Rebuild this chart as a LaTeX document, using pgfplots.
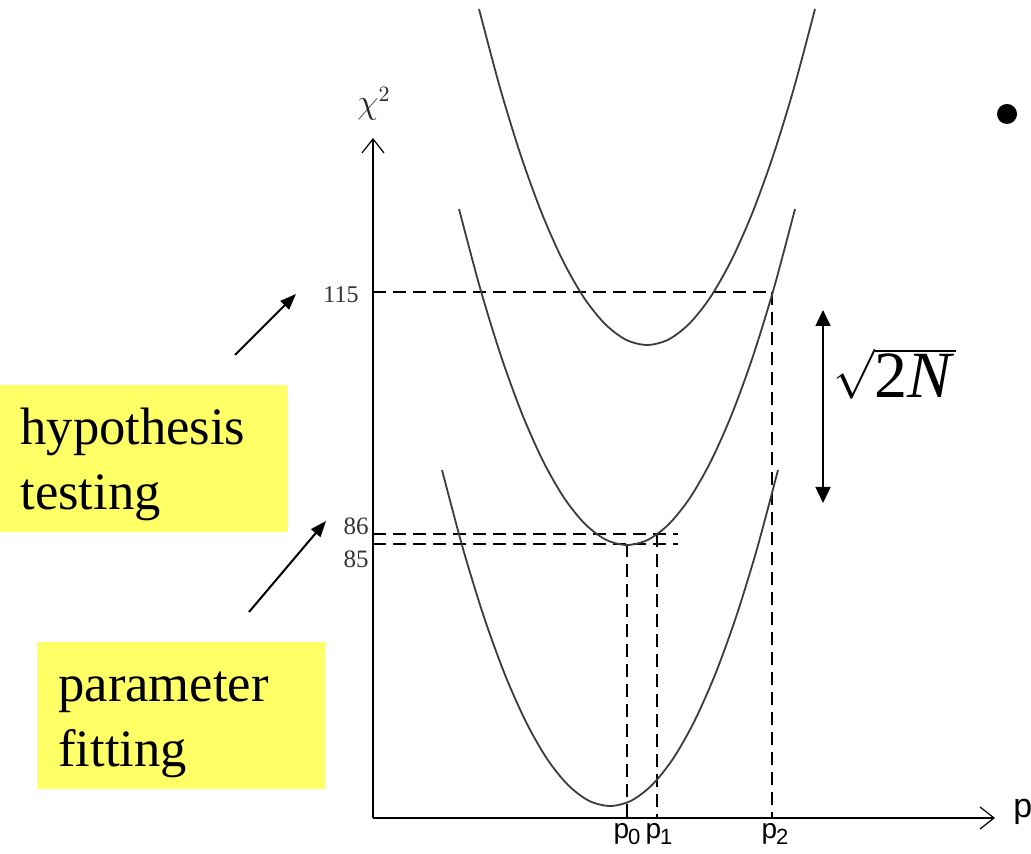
\documentclass[border=0pt]{standalone}
\usepackage{pgfplots}
\pgfplotsset{compat=1.18}
\usetikzlibrary{arrows.meta}
\usepackage{fontspec}
\setmainfont{Liberation Serif}
\newfontfamily\helv{Liberation Sans}
\definecolor{notey}{RGB}{255,255,102}
\definecolor{curve}{RGB}{60,60,60}

\begin{document}
\begin{tikzpicture}
\begin{axis}[
  scale only axis, width=515.5pt, height=427pt,
  xmin=0, xmax=1031, ymin=0, ymax=854,
  hide axis, clip=false,
]
% background and the two yellow notes
\fill[white] (axis cs:0,0) rectangle (axis cs:1031,854);
\fill[notey] (axis cs:0,322) rectangle (axis cs:288,469);
\fill[notey] (axis cs:37,65) rectangle (axis cs:325,212);

\node[anchor=base west,inner sep=0pt,font=\fontsize{26.3}{31}\selectfont] at (axis cs:20,409) {hypothesis};
\node[anchor=base west,inner sep=0pt,font=\fontsize{26.3}{31}\selectfont] at (axis cs:20,344) {testing};
\node[anchor=base west,inner sep=0pt,font=\fontsize{26.3}{31}\selectfont] at (axis cs:58,152) {parameter};
\node[anchor=base west,inner sep=0pt,font=\fontsize{26.3}{31}\selectfont] at (axis cs:58,87) {fitting};

\draw[line width=1pt,-{Triangle[length=8pt,width=6pt]}] (axis cs:235,499) -- (axis cs:296,560);
\draw[line width=1pt,-{Triangle[length=8pt,width=6pt]}] (axis cs:249,242) -- (axis cs:326,333);

% coordinate axes
\draw[line width=1pt,-{Straight Barb[length=7pt,width=11pt,line width=0.6pt]}] (axis cs:373,36) -- (axis cs:373,716);
\draw[line width=1pt,-{Straight Barb[length=7pt,width=11pt,line width=0.6pt]}] (axis cs:373,36) -- (axis cs:995,36);
\node[font=\fontsize{16}{18}\selectfont,text=black!85] at (axis cs:374,750) {$\chi^2$};
\node[anchor=base west,inner sep=0pt,font=\helv\fontsize{17}{20}\selectfont] at (axis cs:1013,36) {p};

% tick labels
\node[anchor=east,inner sep=0pt,text=black!80,font=\fontsize{12}{14}\selectfont] at (axis cs:359,559) {115};
\node[anchor=east,inner sep=0pt,text=black!80,font=\fontsize{12.5}{14}\selectfont] at (axis cs:369,328) {86};
\node[anchor=east,inner sep=0pt,text=black!80,font=\fontsize{12.5}{14}\selectfont] at (axis cs:369,295) {85};
\node[anchor=north,inner sep=0pt,font=\helv\fontsize{14}{16}\selectfont] at (axis cs:627,31) {p\kern-0.5pt\raisebox{-3pt}{\fontsize{11}{12}\selectfont 0}};
\node[anchor=north,inner sep=0pt,font=\helv\fontsize{14}{16}\selectfont] at (axis cs:659,31) {p\kern-0.5pt\raisebox{-3pt}{\fontsize{11}{12}\selectfont 1}};
\node[anchor=north,inner sep=0pt,font=\helv\fontsize{14}{16}\selectfont] at (axis cs:775,31) {p\kern-0.5pt\raisebox{-3pt}{\fontsize{11}{12}\selectfont 2}};

% dashed guide lines
\addplot[black, line width=1pt, dash pattern=on 6.5pt off 3.5pt] coordinates {(373,562) (772,562)};
\addplot[black, line width=1pt, dash pattern=on 6.5pt off 3.5pt] coordinates {(373,320) (678,320)};
\addplot[black, line width=1pt, dash pattern=on 6.5pt off 3.5pt] coordinates {(373,310) (678,310)};
\addplot[black, line width=1pt, dash pattern=on 6.5pt off 3.5pt] coordinates {(627,310) (627,36)};
\addplot[black, line width=1pt, dash pattern=on 6.5pt off 3.5pt] coordinates {(657,320) (657,36)};
\addplot[black, line width=1pt, dash pattern=on 6.5pt off 3.5pt] coordinates {(772,562) (772,36)};

% chi-square curves
\addplot[curve, line width=0.9pt, smooth] coordinates {
 (442,384) (463,305.2) (484,236.9) (505,179.2) (526,132) (547,95.2) (568,69) (589,53.2) (610,48)
 (631,53.2) (652,69) (673,95.2) (694,132) (715,179.2) (736,236.9) (757,305.2) (778,384)};
\addplot[curve, line width=0.9pt, smooth] coordinates {
 (459,645) (480,566.2) (501,497.9) (522,440.2) (543,393) (564,356.2) (585,330) (606,314.2) (627,309)
 (648,314.2) (669,330) (690,356.2) (711,393) (732,440.2) (753,497.9) (774,566.2) (795,645)};
\addplot[curve, line width=0.9pt, smooth] coordinates {
 (479,845) (500,766.2) (521,697.9) (542,640.2) (563,593) (584,556.2) (605,530) (626,514.2) (647,509)
 (668,514.2) (689,530) (710,556.2) (731,593) (752,640.2) (773,697.9) (794,766.2) (815,845)};

% spread of the minimum
\draw[line width=0.8pt,{Triangle[length=8pt,width=7.5pt]}-{Triangle[length=8pt,width=7.5pt]}] (axis cs:823,544) -- (axis cs:823,351);
\node[anchor=base west,inner sep=0pt,font=\fontsize{33}{38}\selectfont] at (axis cs:833,456) {$\sqrt{\mbox{2\itshape N\kern2pt}}$};

\fill (axis cs:1007,740) circle[radius=5pt];
\end{axis}
\pgfresetboundingbox
\path (0,0) rectangle (515.5pt,427pt);
\end{tikzpicture}
\end{document}
